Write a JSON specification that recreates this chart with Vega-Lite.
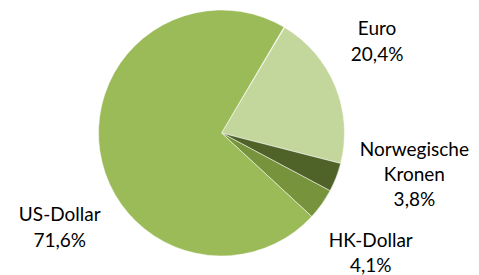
{
  "$schema": "https://vega.github.io/schema/vega-lite/v6.json",
  "width": 443,
  "height": 266,
  "autosize": "none",
  "padding": {"left": 0, "top": 0, "right": 36, "bottom": 9},
  "background": "#ffffff",
  "config": {"view": {"stroke": null}},
  "data": {
    "values": [
      {"idx": 1, "currency": "Euro", "share": 20.4, "label": ["Euro", "20,4%"]},
      {"idx": 2, "currency": "Norwegische Kronen", "share": 3.8, "label": ["Norwegische", "Kronen", "3,8%"]},
      {"idx": 3, "currency": "HK-Dollar", "share": 4.1, "label": ["HK-Dollar", "4,1%"]},
      {"idx": 4, "currency": "US-Dollar", "share": 71.6, "label": ["US-Dollar", "71,6%"]}
    ]
  },
  "transform": [
    {"stack": "share", "groupby": [], "sort": [{"field": "idx", "order": "ascending"}], "as": ["s0", "s1"]}
  ],
  "layer": [
    {
      "mark": {"type": "arc", "outerRadius": 123, "stroke": "#ffffff", "strokeWidth": 0.5},
      "encoding": {
        "theta": {"field": "s0", "type": "quantitative", "scale": {"domain": [0, 100], "range": [0.5393, 6.8225]}},
        "theta2": {"field": "s1"},
        "color": {
          "field": "currency", "type": "nominal", "legend": null,
          "scale": {"domain": ["Euro", "Norwegische Kronen", "HK-Dollar", "US-Dollar"], "range": ["#C3D69B", "#4F6228", "#77933C", "#9BBB59"]}
        }
      }
    },
    {
      "transform": [{"filter": "datum.currency == 'Euro'"}],
      "mark": {"type": "text", "font": "Lato", "fontSize": 19, "lineHeight": 26, "align": "center", "baseline": "middle", "color": "#000000", "radius": 181, "thetaOffset": 0.506, "dy": -13, "dx": -1},
      "encoding": {"theta": {"field": "s0", "type": "quantitative"}, "text": {"field": "label"}}
    },
    {
      "transform": [{"filter": "datum.currency == 'Norwegische Kronen'"}],
      "mark": {"type": "text", "font": "Lato", "fontSize": 19, "lineHeight": 25, "align": "center", "baseline": "middle", "color": "#000000", "radius": 197, "thetaOffset": -0.046, "dy": -23},
      "encoding": {"theta": {"field": "s0", "type": "quantitative"}, "text": {"field": "label"}}
    },
    {
      "transform": [{"filter": "datum.currency == 'HK-Dollar'"}],
      "mark": {"type": "text", "font": "Lato", "fontSize": 19, "lineHeight": 25, "align": "center", "baseline": "middle", "color": "#000000", "radius": 190, "thetaOffset": 0.195, "dy": -12, "dx": 2},
      "encoding": {"theta": {"field": "s0", "type": "quantitative"}, "text": {"field": "label"}}
    },
    {
      "transform": [{"filter": "datum.currency == 'US-Dollar'"}],
      "mark": {"type": "text", "font": "Lato", "fontSize": 19, "lineHeight": 26, "align": "center", "baseline": "middle", "color": "#000000", "radius": 188, "thetaOffset": 1.871, "dy": -12, "dx": 1},
      "encoding": {"theta": {"field": "s0", "type": "quantitative"}, "text": {"field": "label"}}
    }
  ]
}
